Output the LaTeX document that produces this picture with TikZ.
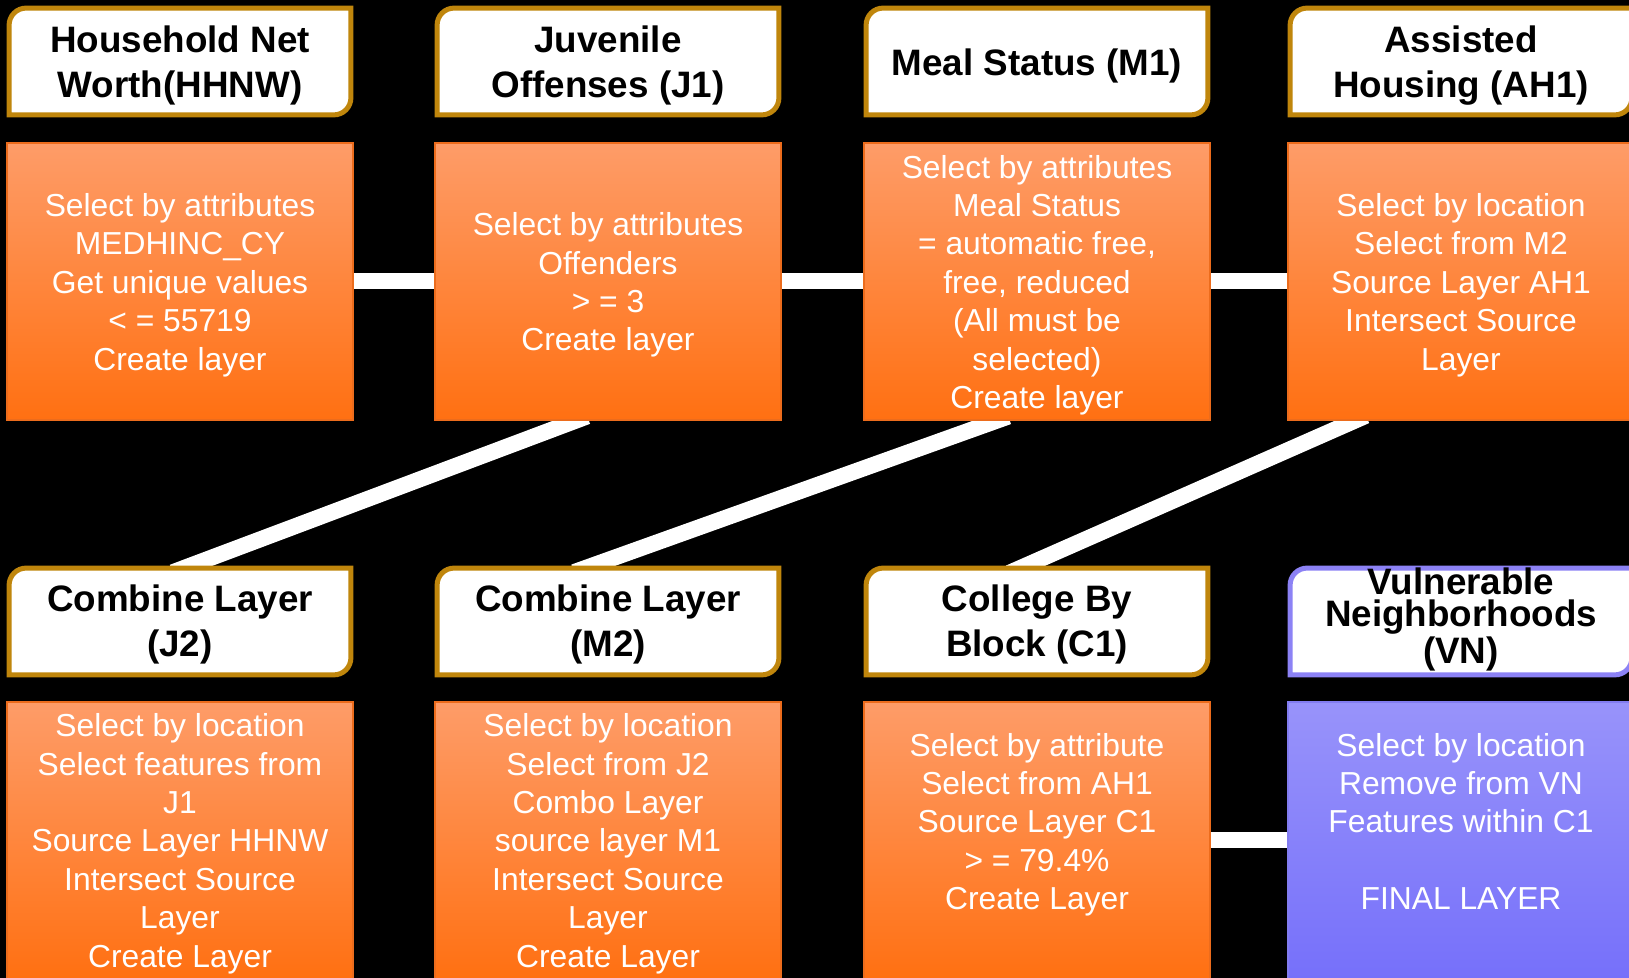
\documentclass[tikz,border=0pt]{standalone}
\usepackage{fontspec}
\setmainfont{Liberation Sans}
\definecolor{hdrbrown}{RGB}{192,134,12}
\definecolor{hdrpurple}{RGB}{140,130,245}
\definecolor{otop}{RGB}{254,156,104}
\definecolor{obot}{RGB}{255,112,18}
\definecolor{oborder}{RGB}{236,108,28}
\definecolor{ptop}{RGB}{152,147,250}
\definecolor{pbot}{RGB}{118,112,250}
\definecolor{pborder}{RGB}{130,124,240}
\pgfdeclarelayer{bglayer}
\pgfdeclarelayer{connlayer}
\pgfdeclarelayer{framelayer}
\pgfsetlayers{bglayer,connlayer,framelayer,main}
\tikzset{
  obox/.style={rectangle, inner sep=0pt, minimum width=173pt, minimum height=138.5pt,
    draw=oborder, line width=0.6pt, top color=otop, bottom color=obot},
  pbox/.style={obox, draw=pborder, top color=ptop, bottom color=pbot},
  otext/.style={inner sep=0pt, text=white, align=center, font=\fontsize{15.9}{19.2}\selectfont},
  hdr/.style={rectangle, inner sep=0pt, minimum width=170.5pt, minimum height=53pt},
  htext/.style={inner sep=0pt, align=center, text=black, font=\bfseries\fontsize{18.4}{22.5}\selectfont},
  conn/.style={draw=white, line width=8pt, shorten <=-6pt, shorten >=-6pt},
}
\newcommand\hframe[2]{%
  \draw[line width=2.5pt, draw=#2, fill=white] (#1.south west)
    -- ([yshift=-8.5pt]#1.north west) arc[start angle=180,end angle=90,radius=8.5pt]
    -- (#1.north east)
    -- ([yshift=8.5pt]#1.south east) arc[start angle=0,end angle=-90,radius=8.5pt]
    -- cycle;}
\begin{document}
\begin{tikzpicture}[x=0.5pt,y=0.5pt]
\useasboundingbox (0,0) rectangle (1629,978);
\begin{pgfonlayer}{bglayer}
  \fill[black] (0,0) rectangle (1629,978);
\end{pgfonlayer}

% header frames (sizing nodes)
\node[hdr] (h1) at (180,916.5) {};
\node[hdr] (h2) at (608,916.5) {};
\node[hdr] (h3) at (1037,916.5) {};
\node[hdr] (h4) at (1461,916.5) {};
\node[hdr] (h5) at (180,356.5) {};
\node[hdr] (h6) at (608,356.5) {};
\node[hdr] (h7) at (1037,356.5) {};
\node[hdr] (h8) at (1461,356.5) {};

% header texts
\node[htext] (ht1) at ([yshift=-2pt]h1.center) {Household Net\\Worth(HHNW)};
\node[htext] (ht2) at ([yshift=-2pt]h2.center) {Juvenile\\Offenses (J1)};
\node[htext] (ht3) at ([yshift=-2.5pt]h3.center) {Meal Status (M1)};
\node[htext] (ht4) at ([yshift=-2pt]h4.center) {Assisted\\Housing (AH1)};
\node[htext] (ht5) at ([yshift=-1.6pt]h5.center) {Combine Layer\\(J2)};
\node[htext] (ht6) at ([yshift=-1.6pt]h6.center) {Combine Layer\\(M2)};
\node[htext] (ht7) at ([yshift=-1.6pt]h7.center) {College By\\Block (C1)};
\node[htext, font=\bfseries\fontsize{18.4}{16}\selectfont] (ht8) at ([yshift=1pt]h8.center) {Vulnerable\\Neighborhoods\\(VN)};

% process boxes
\node[obox] (o1) at (180,696.5) {};
\node[obox] (o2) at (608,696.5) {};
\node[obox] (o3) at (1037,696.5) {};
\node[obox] (o4) at (1461,696.5) {};
\node[obox] (o5) at (180,137.5) {};
\node[obox] (o6) at (608,137.5) {};
\node[obox] (o7) at (1037,137.5) {};
\node[pbox] (o8) at (1461,137.5) {};

% process texts
\node[otext] (t1) at ([yshift=-1.8pt]o1.center) {Select by attributes\\MEDHINC\_CY\\Get unique values\\< = 55719\\Create layer};
\node[otext] (t2) at ([yshift=-1.8pt]o2.center) {Select by attributes\\Offenders\\> = 3\\Create layer};
\node[otext] (t3) at ([yshift=-1.8pt]o3.center) {Select by attributes\\Meal Status\\= automatic free,\\free, reduced\\(All must be\\selected)\\Create layer};
\node[otext] (t4) at ([yshift=-1.8pt]o4.center) {Select by location\\Select from M2\\Source Layer AH1\\Intersect Source\\Layer};
\node[otext] (t5) at ([yshift=-1.6pt]o5.center) {Select by location\\Select features from\\J1\\Source Layer HHNW\\Intersect Source\\Layer\\Create Layer};
\node[otext] (t6) at ([yshift=-1.6pt]o6.center) {Select by location\\Select from J2\\Combo Layer\\source layer M1\\Intersect Source\\Layer\\Create Layer};
\node[otext] (t7) at (o7.center) {Select by attribute\\Select from AH1\\Source Layer C1\\> = 79.4\%\\Create Layer\\~};
\node[otext] (t8) at (o8.center) {Select by location\\Remove from VN\\Features within C1\\~\\FINAL LAYER\\~};

\begin{pgfonlayer}{framelayer}
  \hframe{h1}{hdrbrown}
  \hframe{h2}{hdrbrown}
  \hframe{h3}{hdrbrown}
  \hframe{h4}{hdrbrown}
  \hframe{h5}{hdrbrown}
  \hframe{h6}{hdrbrown}
  \hframe{h7}{hdrbrown}
  \hframe{h8}{hdrpurple}
\end{pgfonlayer}

\begin{pgfonlayer}{connlayer}
  \draw[conn] (o1) -- (o2);
  \draw[conn] (o2) -- (o3);
  \draw[conn] (o3) -- (o4);
  \draw[conn] ([xshift=-16pt]o2.south) -- ([xshift=1.9pt]h5.north);
  \draw[conn] ([xshift=-20pt]o3.south) -- ([xshift=-11.35pt]h6.north);
  \draw[conn] ([xshift=-53pt]o4.south) -- ([xshift=-8.45pt]h7.north);
  \draw[conn] (o7) -- (o8);
\end{pgfonlayer}
\end{tikzpicture}
\end{document}
